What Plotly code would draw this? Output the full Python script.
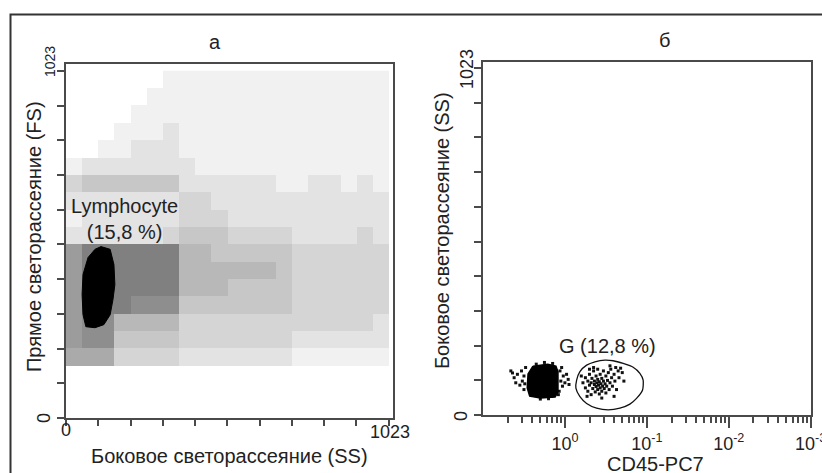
import plotly.graph_objects as go

W, H = 822, 473

# ---------------- data: panel "а" (SS vs FS) ----------------
# density of events, 20 x 20 cells (SS columns 0..1023, FS rows 0..1023, bottom row first), tone level 0..9
LEFT_DENSITY = [
    [0,0,0,0,0,0,0,0,0,0,0,0,0,0,0,0,0,0,0,0],
    [0,0,0,0,0,0,0,0,0,0,0,0,0,0,0,0,0,0,0,0],
    [0,0,0,0,0,0,0,0,0,0,0,0,0,0,0,0,0,0,0,0],
    [6,6,6,3,3,3,3,2,2,2,2,2,2,2,1,1,1,1,1,1],
    [7,8,8,4,4,4,4,3,3,3,3,3,3,3,2,2,2,2,2,2],
    [7,8,8,5,5,5,5,3,3,3,3,3,3,3,3,3,3,3,3,2],
    [7,9,9,9,8,8,8,4,4,4,4,4,4,4,3,3,3,3,3,3],
    [7,9,9,9,9,9,9,5,5,5,4,4,4,4,3,3,3,3,3,3],
    [7,9,9,9,9,9,9,5,5,5,5,5,5,4,3,3,3,3,3,3],
    [7,9,9,9,9,9,9,5,5,4,4,4,4,4,3,3,3,3,3,3],
    [2,2,2,2,2,2,3,4,4,4,3,3,3,3,2,2,2,2,3,2],
    [1,2,2,2,2,2,2,3,3,3,2,2,2,2,2,2,2,2,2,2],
    [2,2,2,2,2,2,2,3,3,2,2,2,2,2,2,2,2,2,2,2],
    [3,4,4,4,4,4,4,2,2,2,2,2,2,1,1,2,2,1,2,1],
    [1,2,2,2,2,2,2,2,1,1,1,1,1,1,1,1,1,1,1,1],
    [0,0,1,1,2,2,2,1,1,1,1,1,1,1,1,1,1,1,1,1],
    [0,0,0,1,1,1,2,1,1,1,1,1,1,1,1,1,1,1,1,1],
    [0,0,0,0,1,1,1,1,1,1,1,1,1,1,1,1,1,1,1,1],
    [0,0,0,0,0,1,1,1,1,1,1,1,1,1,1,1,1,1,1,1],
    [0,0,0,0,0,0,1,1,1,1,1,1,1,1,1,1,1,1,1,1],
]
# outline of the dense lymphocyte cluster
LYMPH_SS = [111, 140, 152, 155, 149, 140, 120, 92, 63, 54, 51, 54, 70, 92]
LYMPH_FS = [505, 497, 452, 393, 349, 304, 275, 266, 269, 304, 364, 423, 473, 497]
SCALE_TICKS = [0, 102.3, 204.6, 306.9, 409.2, 511.5, 613.8, 716.1, 818.4, 920.7, 1023]
SCALE_MIN_LABEL = "0"
SCALE_MAX_LABEL = "1023"

# ---------------- data: panel "б" (CD45-PC7 vs SS) ----------------
# dense CD45-negative cluster outline (CD45 in decades, SS)
CORE_LOG = [-0.39, -0.21, -0.11, -0.085, -0.085, -0.12, -0.30, -0.43, -0.46, -0.45]
CORE_SS = [144, 150, 144, 127, 68, 53, 50, 56, 80, 121]
# scattered events around the dense cluster
HALO_LOG = [-0.62, -0.60, -0.58, -0.55, -0.53, -0.52, -0.50, -0.50, -0.48, -0.49,
            -0.06, -0.05, -0.03, -0.02, 0.00, 0.02, 0.04, -0.07, -0.04, 0.05, -0.08,
            -0.35, -0.25, -0.15, -0.30, -0.20, -0.66, -0.64]
HALO_SS = [110, 95, 120, 88, 130, 100, 75, 115, 140, 92,
           130, 100, 85, 115, 95, 120, 105, 70, 140, 90, 60,
           150, 155, 152, 47, 48, 130, 124]
# events of gate G
G_LOG = [0.22, 0.25, 0.25, 0.28, 0.28, 0.30, 0.30, 0.32, 0.32, 0.33, 0.34, 0.35, 0.36, 0.36, 0.37,
         0.38, 0.38, 0.39, 0.40, 0.40, 0.41, 0.42, 0.42, 0.43, 0.43, 0.44, 0.45, 0.45, 0.46, 0.47,
         0.47, 0.48, 0.49, 0.50, 0.50, 0.51, 0.52, 0.53, 0.54, 0.55, 0.56, 0.57, 0.58, 0.60, 0.61,
         0.62, 0.63, 0.65, 0.66, 0.68, 0.70, 0.72, 0.20, 0.27, 0.45, 0.35, 0.60, 0.40, 0.55, 0.30]
G_SS = [95, 80, 110, 70, 100, 88, 120, 60, 95, 108, 78, 130, 90, 100, 68,
        84, 115, 95, 75, 105, 88, 62, 98, 80, 120, 92, 108, 70, 85, 100,
        130, 78, 92, 115, 65, 85, 102, 125, 75, 95, 135, 110, 85, 120, 100,
        140, 75, 130, 110, 138, 125, 100, 115, 55, 50, 140, 55, 135, 145, 135]
# gate G contour
GATE_LOG = [0.143, 0.183, 0.265, 0.366, 0.488, 0.589, 0.711, 0.833, 0.915, 0.955,
            0.948, 0.874, 0.793, 0.671, 0.528, 0.387, 0.265, 0.183, 0.134, 0.143]
GATE_SS = [103, 128, 147, 157, 162, 160, 152, 141, 123, 103,
           74, 49, 32, 20, 15, 20, 34, 54, 79, 103]
CD45_TICKS = [1, 10, 100, 1000]
CD45_TEXT = ["10<sup>0</sup>", "10<sup>-1</sup>", "10<sup>-2</sup>", "10<sup>-3</sup>"]
CD45_MINOR = [m * d for d in (0.1, 1, 10, 100) for m in range(2, 10)]

FONT = "Liberation Sans, Arial, sans-serif"
INK = "#222222"
AXC = "#4a4a4a"


def px(x):
    return x / W


def py(y):
    return 1 - y / H


fig = go.Figure()

fig.add_trace(go.Heatmap(z=LEFT_DENSITY, x0=1023 / 40, dx=1023 / 20, y0=1023 / 40, dy=1023 / 20,
                         colorscale=[[0, "#ffffff"], [1, "#808080"]], zmin=0, zmax=9,
                         showscale=False, hoverinfo="skip", xaxis="x", yaxis="y"))
fig.add_trace(go.Scatter(x=LYMPH_SS + LYMPH_SS[:1], y=LYMPH_FS + LYMPH_FS[:1], mode="lines",
                         fill="toself", fillcolor="#000000", line=dict(color="#000000", width=1),
                         xaxis="x", yaxis="y", hoverinfo="skip"))

fig.add_trace(go.Scatter(x=[10 ** v for v in HALO_LOG], y=HALO_SS, mode="markers",
                         marker=dict(symbol="square", size=3, color="#111111"),
                         xaxis="x2", yaxis="y2", hoverinfo="skip"))
fig.add_trace(go.Scatter(x=[10 ** v for v in CORE_LOG + CORE_LOG[:1]], y=CORE_SS + CORE_SS[:1],
                         mode="lines", fill="toself", fillcolor="#000000",
                         line=dict(color="#000000", width=1.5), xaxis="x2", yaxis="y2", hoverinfo="skip"))
fig.add_trace(go.Scatter(x=[10 ** v for v in G_LOG], y=G_SS, mode="markers",
                         marker=dict(symbol="square", size=3, color="#111111"),
                         xaxis="x2", yaxis="y2", hoverinfo="skip"))
fig.add_trace(go.Scatter(x=[10 ** v for v in GATE_LOG], y=GATE_SS, mode="lines",
                         line=dict(color="#111111", width=1.3, shape="spline", smoothing=0.6),
                         xaxis="x2", yaxis="y2", hoverinfo="skip"))

axis_common = dict(showline=True, mirror=True, linecolor=AXC, linewidth=2, showgrid=False,
                   zeroline=False, ticks="outside", tickcolor=AXC, tickwidth=1.5,
                   tickfont=dict(family=FONT, size=18, color=INK))

fig.update_layout(
    width=W, height=H, autosize=False, margin=dict(l=0, r=0, t=0, b=0, autoexpand=False),
    paper_bgcolor="white", plot_bgcolor="white", showlegend=False,
    font=dict(family=FONT, size=18, color=INK),
    xaxis=dict(domain=[px(66), px(393)], range=[0, 1037], tickvals=SCALE_TICKS, showticklabels=False,
               ticklen=6, anchor="y", **axis_common),
    yaxis=dict(domain=[py(418), py(64)], range=[0, 1043], tickvals=SCALE_TICKS, showticklabels=False,
               ticklen=7, anchor="x", **axis_common),
    xaxis2=dict(type="log", domain=[px(483), px(811)], range=[-1, 3.004], tickvals=CD45_TICKS,
                ticktext=CD45_TEXT, ticklen=11, anchor="y2", ticklabeloverflow="allow",
                minor=dict(tickvals=CD45_MINOR, ticklen=6, ticks="outside", tickcolor=AXC, tickwidth=1.5),
                **axis_common),
    yaxis2=dict(domain=[py(415), py(62)], range=[0, 1041], tickvals=SCALE_TICKS, showticklabels=False,
                ticklen=7, anchor="x2", **axis_common),
)

fig.add_shape(type="rect", xref="paper", yref="paper", x0=px(10.5), x1=px(825), y0=py(476), y1=py(14.5),
              line=dict(color="#333333", width=2), layer="above")


def label(text, x, y, size=20, angle=0):
    fig.add_annotation(text=text, xref="paper", yref="paper", x=px(x), y=py(y), showarrow=False,
                       xanchor="center", yanchor="middle", textangle=angle,
                       font=dict(family=FONT, size=size, color=INK))


label("а", 215, 42)
label("б", 664, 40)
label("Боковое светорассеяние (SS)", 229, 456)
label("Прямое светорассеяние (FS)", 34, 237, angle=-90)
label("Боковое светорассеяние (SS)", 442, 231, angle=-90)
label("CD45-PC7", 655, 464)
# scale end labels
label(SCALE_MIN_LABEL, 66, 430, size=18)
label(SCALE_MAX_LABEL, 390, 432, size=18)
label(SCALE_MAX_LABEL, 50, 62, size=14, angle=-90)
label(SCALE_MIN_LABEL, 44, 418, size=18, angle=-90)
label(SCALE_MAX_LABEL, 467, 69, size=18, angle=-90)
label(SCALE_MIN_LABEL, 461, 416, size=18, angle=-90)

fig.add_annotation(text="Lymphocyte<br>(15,8 %)", x=187, y=585, xref="x", yref="y", showarrow=False,
                   xanchor="center", yanchor="middle", font=dict(family=FONT, size=20, color=INK))
fig.add_annotation(text="G (12,8 %)", x=0.524, y=203, xref="x2", yref="y2", showarrow=False,
                   xanchor="center", yanchor="middle", font=dict(family=FONT, size=20, color=INK))

fig.write_html("out.html", config={"responsive": False})
